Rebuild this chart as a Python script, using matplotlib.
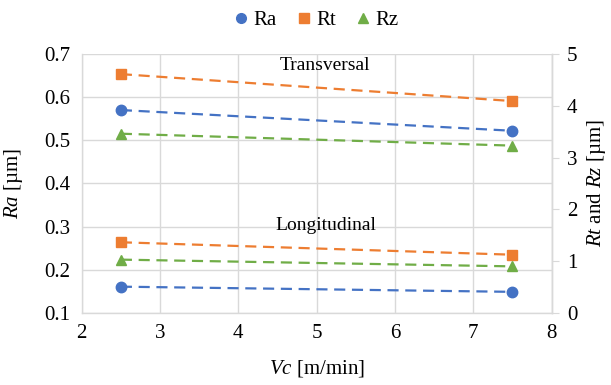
import matplotlib.pyplot as plt
from matplotlib.lines import Line2D

plt.rcParams['font.family'] = 'serif'
plt.rcParams['font.serif'] = ['Liberation Serif', 'DejaVu Serif']
plt.rcParams['mathtext.fontset'] = 'custom'
plt.rcParams['mathtext.it'] = 'Liberation Serif:italic'
plt.rcParams['mathtext.rm'] = 'Liberation Serif'

# cutting speed [m/min]
vc = [2.5, 7.5]

# transversal direction
ra_trans = [0.570, 0.522]
rt_trans = [4.61, 4.09]
rz_trans = [3.46, 3.23]

# longitudinal direction
ra_long = [0.161, 0.149]
rt_long = [1.365, 1.125]
rz_long = [1.03, 0.90]

blue = '#4472C4'
orange = '#ED7D31'
green = '#70AD47'
grid = '#D9D9D9'

fig = plt.figure(figsize=(6.11, 3.85), dpi=100)
ax1 = fig.add_axes([0.1337, 0.187, 0.769, 0.673])
ax2 = ax1.twinx()

line_kw = dict(lw=1.6, dashes=(5, 3), ms=7.5, zorder=3)
ax1.plot(vc, ra_trans, color=blue, marker='o', **line_kw)
ax1.plot(vc, ra_long, color=blue, marker='o', **line_kw)
ax2.plot(vc, rt_trans, color=orange, marker='s', **line_kw)
ax2.plot(vc, rt_long, color=orange, marker='s', **line_kw)
ax2.plot(vc, rz_trans, color=green, marker='^', **line_kw)
ax2.plot(vc, rz_long, color=green, marker='^', **line_kw)

ax1.set_xlim(2, 8)
ax1.set_ylim(0.1, 0.7)
ax2.set_ylim(0, 5)
ax1.set_xticks(range(2, 9))
ax1.set_yticks([0.1, 0.2, 0.3, 0.4, 0.5, 0.6, 0.7])
ax1.set_yticklabels(['0.1', '0.2', '0.3', '0.4', '0.5', '0.6', '0.7'])
ax2.set_yticks(range(0, 6))

ax1.grid(True, color=grid, lw=1)
ax1.set_axisbelow(True)
for ax in (ax1, ax2):
    for s in ax.spines.values():
        s.set_color(grid)
        s.set_linewidth(1)
    ax.spines['top'].set_visible(False)
ax2.spines['left'].set_visible(False)
ax2.spines['bottom'].set_visible(False)

ax1.tick_params(axis='both', length=0, labelsize=15, pad=8)
ax2.tick_params(axis='y', length=5, color=grid, labelsize=15, pad=6)

ax1.set_xlabel('$Vc$ [m/min]', fontsize=15)
ax1.set_ylabel('$Ra$ [µm]', fontsize=15)
ax2.set_ylabel('$Rt$ and $Rz$ [µm]', fontsize=15)
ax1.xaxis.set_label_coords(0.5, -0.175)
ax1.yaxis.set_label_coords(-0.12, 0.5)
ax2.yaxis.set_label_coords(1.072, 0.5)

ax1.text(5.1, 0.673, 'Transversal', fontsize=14, ha='center', va='center')
ax1.text(5.12, 0.303, 'Longitudinal', fontsize=14, ha='center', va='center')

handles = [
    Line2D([], [], color=blue, marker='o', ls='none', ms=7),
    Line2D([], [], color=orange, marker='s', ls='none', ms=7),
    Line2D([], [], color=green, marker='^', ls='none', ms=7),
]
fig.legend(handles, ['Ra', 'Rt', 'Rz'], loc='center', bbox_to_anchor=(0.515, 0.947),
           ncol=3, frameon=False, fontsize=15, handletextpad=0.1,
           columnspacing=0.8, handlelength=1.0)

fig.savefig('out.png', dpi=100)
